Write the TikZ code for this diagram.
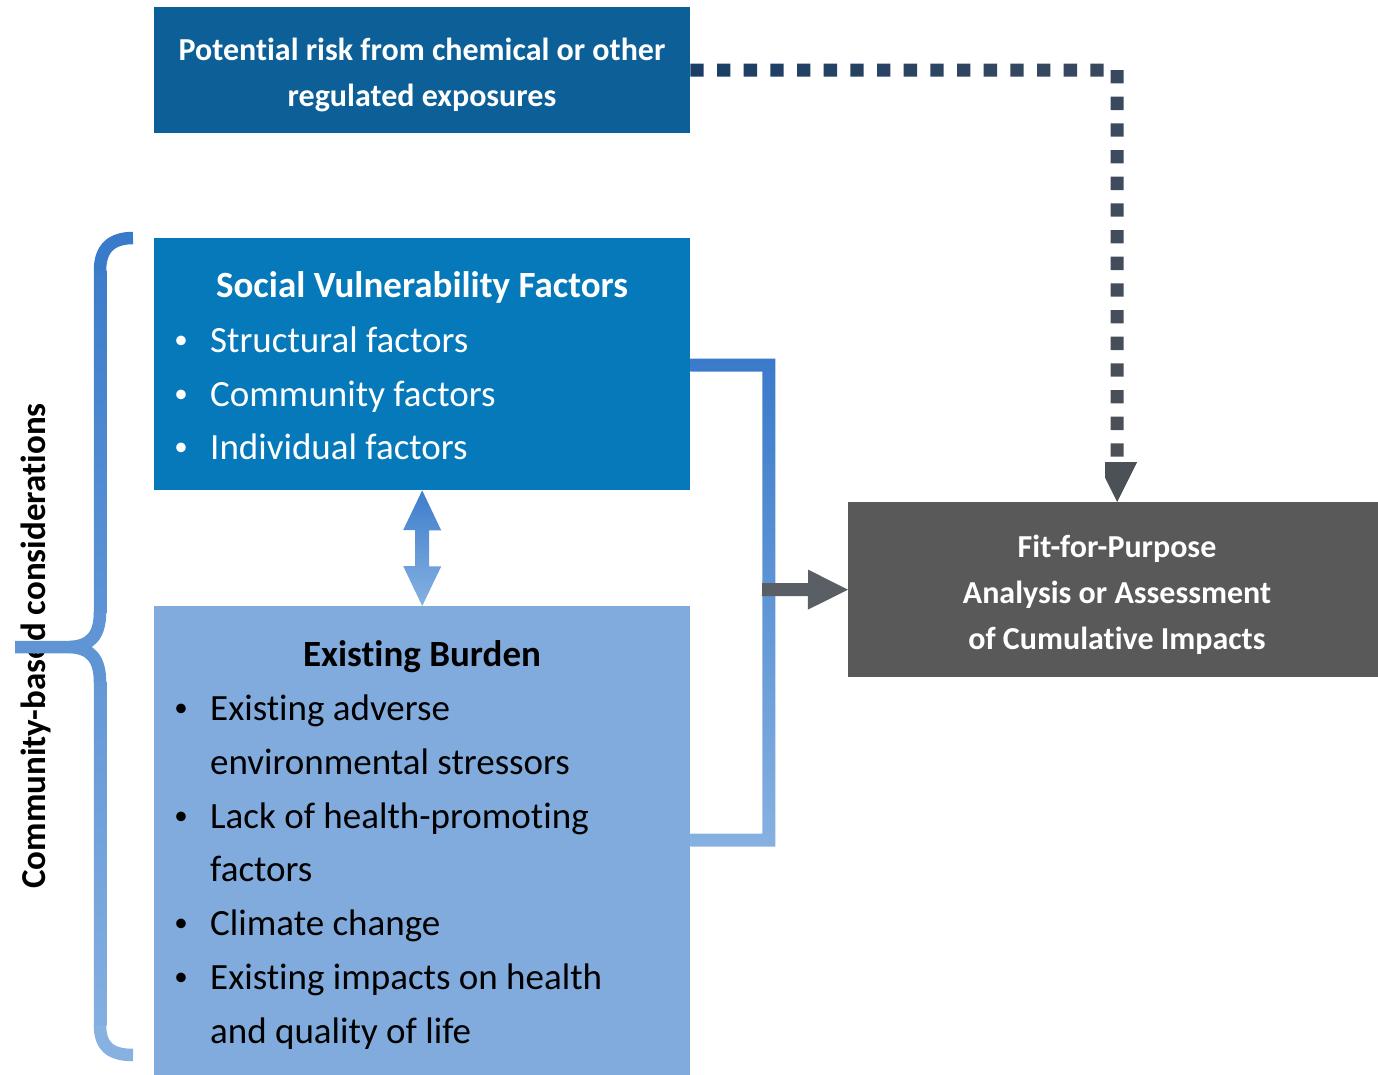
\documentclass[tikz,border=0pt]{standalone}
\usepackage{fontspec}
\setmainfont{Carlito}[Ligatures={NoCommon,NoRequired,NoContextual},RawFeature=-calt]
\usetikzlibrary{arrows.meta,calc}
\definecolor{topblue}{RGB}{12,96,151}
\definecolor{svfblue}{RGB}{6,121,187}
\definecolor{ebblue}{RGB}{128,171,220}
\definecolor{fitgray}{RGB}{89,89,89}
\definecolor{dotA}{RGB}{26,62,102}
\definecolor{dotB}{RGB}{56,73,95}
\definecolor{dotC}{RGB}{76,80,87}
\definecolor{brT}{RGB}{58,122,202}
\definecolor{brB}{RGB}{134,177,225}
\definecolor{conGray}{RGB}{90,94,101}
\definecolor{arrT}{RGB}{62,125,204}
\newcommand\fsBig{\fontsize{37}{44}\selectfont}
\newcommand\fsMid{\fontsize{32}{38}\selectfont}
\newcommand\fsVert{\fontsize{35}{42}\selectfont}
\newcommand\fsBul{\fontsize{27}{32}\selectfont}
\newcommand\bul{\raisebox{3.5pt}{•}}
\newcommand\tI{t\kern0pt i}
\tikzset{
  boxnode/.style={draw=none, inner sep=0pt, anchor=north west},
  wtxt/.style={text=white, inner sep=0pt},
  ktxt/.style={text=black, inner sep=0pt},
  dotline/.style={line width=13pt, dash pattern=on 13.333pt off 13.333pt,
    -{Triangle[width=40pt,length=40pt,line width=0pt]}},
  bracestroke/.style={line width=12.5pt, line cap=butt}
}
\begin{document}
\begin{tikzpicture}[x=1pt,y=-1pt]
\useasboundingbox (0,0) rectangle (1378,1074);

% boxes
\node[boxnode, fill=topblue, minimum width=536pt, minimum height=126pt] (risk) at (154,7) {};
\node[boxnode, fill=svfblue, minimum width=536pt, minimum height=252pt] (svf) at (154,238) {};
\node[boxnode, fill=ebblue, minimum width=536pt, minimum height=480pt] (eb) at (154,606) {};
\node[boxnode, fill=fitgray, minimum width=538pt, minimum height=175pt] (fit) at (848,502) {};

% top box text
\node[wtxt, anchor=base, font=\fsMid\bfseries] (r1) at (422,60) {Poten\tI al risk from chemical or other};
\node[wtxt, anchor=base, font=\fsMid\bfseries] (r2) at (422,106) {regulated exposures};

% SVF text
\node[wtxt, anchor=base, font=\fsBig\bfseries] (s0) at (422,297) {Social Vulnerability Factors};
\foreach \y/\t/\n in {352/Structural factors/s1, 406/Community factors/s2, 459/Individual factors/s3}{
  \node[wtxt, anchor=base, font=\fsBul] (\n b) at (181,\y) {\bul};
  \node[wtxt, anchor=base west, font=\fsBig] (\n) at (210,\y) {\t};
}

% Existing burden text
\node[ktxt, anchor=base, font=\fsBig\bfseries] (e0) at (422,666) {Exis\tI ng Burden};
\foreach \y/\t/\n in {720/Exis\tI ng adverse/e1, 828/Lack of health-promo\tI ng/e3, 935/Climate change/e5, 989/Exis\tI ng impacts on health/e6}{
  \node[ktxt, anchor=base, font=\fsBul] (\n b) at (181,\y) {\bul};
  \node[ktxt, anchor=base west, font=\fsBig] (\n) at (210,\y) {\t};
}
\foreach \y/\t/\n in {774/environmental stressors/e2, 881/factors/e4, 1043/and quality of life/e7}{
  \node[ktxt, anchor=base west, font=\fsBig] (\n) at (210,\y) {\t};
}

% fit box text
\node[wtxt, anchor=base, font=\fsMid\bfseries] (f1) at (1117,557) {Fit-for-Purpose};
\node[wtxt, anchor=base, font=\fsMid\bfseries] (f2) at (1117,603) {Analysis or Assessment};
\node[wtxt, anchor=base, font=\fsMid\bfseries] (f3) at (1117,649) {of Cumula\tI ve Impacts};

% vertical label
\node[ktxt, anchor=base, rotate=90, font=\fsVert\bfseries] (cbc) at (45,646) {Community-based considera\tI ons};

% dotted connector with colour gradient (drawn zone by zone)
\coordinate (corner) at (1117,70);
\foreach \k in {0,...,15}{
  \pgfmathtruncatemacro\p{100-\k*100/15}
  \begin{scope}
    \clip (683.333+26.667*\k,40) rectangle (710+26.667*\k,100);
    \draw[dotline, draw=dotA!\p!dotB] (risk.east |- corner) -- (corner) -- (fit.north);
  \end{scope}
}
\foreach \j in {0,...,14}{
  \pgfmathtruncatemacro\p{100-\j*100/14}
  \pgfmathsetmacro\ya{ifthenelse(\j==0,40,63.333+26.667*\j)}
  \pgfmathsetmacro\yb{ifthenelse(\j==14,520,90+26.667*\j)}
  \begin{scope}
    \clip (1105,\ya) rectangle (1145,\yb);
    \draw[dotline, draw=dotB!\p!dotC] (risk.east |- corner) -- (corner) -- (fit.north);
  \end{scope}
}

% double arrow between SVF and existing burden
\shade[top color=arrT, bottom color=brB]
  (svf.south) -- ++(19,40) -- ++(-12,0) -- ++(0,36) -- ++(12,0) -- (eb.north)
  -- ++(-19,-40) -- ++(12,0) -- ++(0,-36) -- ++(-12,0) -- cycle;

% bracket joining the two boxes
\coordinate (bt) at (svf.east |- 0,365);
\coordinate (bb) at (eb.east |- 0,840);
\shade[top color=brT, middle color=conGray, bottom color=brB]
  ($(bt)+(0,-6.5)$) -- ++(85,0) |- ($(bb)+(0,6.5)$) -- ++(0,-13) -- ++(72,0)
  -- ($(bt)+(72,6.5)$) -- ($(bt)+(0,6.5)$) -- cycle;
\coordinate (junc) at (762,589.5);
\draw[line width=13pt, conGray, -{Triangle[width=40pt,length=40pt,line width=0pt]}] (junc) -- (fit.west);

% curly brace
\draw[bracestroke, brT] (133,238) .. controls (112,238) and (100,248) .. (100,270.5);
\shade[top color=brT!96!brB, bottom color=brT!54!brB] (93.75,270) rectangle (106.25,613);
\draw[bracestroke, brT!50!brB] (100,612) .. controls (100,636) and (90,646) .. (70,647) -- (15,647);
\draw[bracestroke, brT!50!brB] (70,647) .. controls (90,648) and (100,658) .. (100,682);
\shade[top color=brT!46!brB, bottom color=brT!4!brB] (93.75,681) rectangle (106.25,1025.5);
\draw[bracestroke, brB] (100,1025) .. controls (100,1046) and (110,1055) .. (133,1055);
\end{tikzpicture}
\end{document}
